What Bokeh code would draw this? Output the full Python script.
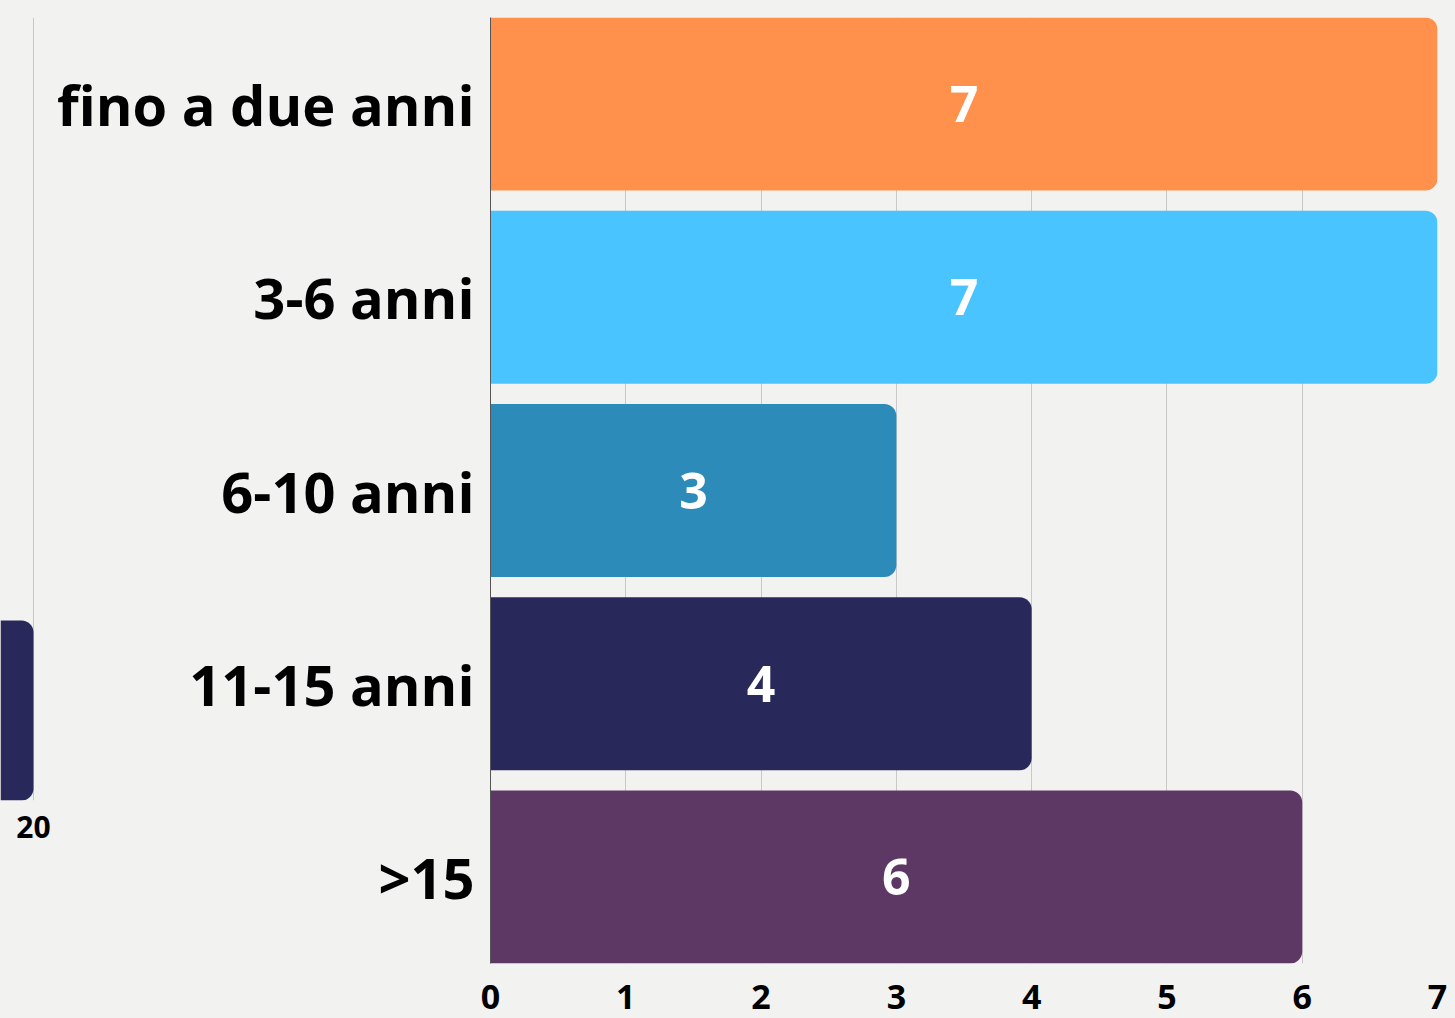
from bokeh.plotting import figure
from bokeh.models import ColumnDataSource, Range1d, FixedTicker
from bokeh.layouts import row
from bokeh.core.properties import value
from bokeh.embed import file_html
from bokeh.resources import INLINE

categories = ["fino a due anni", "3-6 anni", "6-10 anni", "11-15 anni", ">15"]
values = [7, 7, 3, 4, 6]
colors = ["#ff914d", "#4ac4fe", "#2d8bba", "#29285a", "#5e3864"]
x_ticks = [0, 1, 2, 3, 4, 5, 6, 7]

left_values = [20]
left_ticks = [20]
left_color = "#29285a"

BG = "#f2f2f0"
FONT = "Open Sans"

n = len(categories)
ypos = [n - 1 - i for i in range(n)]
src = ColumnDataSource(dict(y=ypos, v=values, c=colors,
                            mid=[v / 2 for v in values],
                            lab=[str(v) for v in values]))

# main chart
p = figure(width=1402, height=1018, output_backend="svg", toolbar_location=None,
           x_range=Range1d(0, 7), y_range=Range1d(-0.4475, n - 1 + 0.4475),
           min_border_left=437, min_border_right=18, min_border_top=17, min_border_bottom=55)
p.background_fill_color = BG
p.border_fill_color = BG
p.outline_line_color = None

p.hbar(y="y", right="v", left=0, height=0.895, fill_color="c", line_color=None,
       border_radius=(0, 12, 12, 0), source=src)
p.text(x="mid", y="y", text="lab", source=src, text_font=value(FONT), text_font_style="bold",
       text_font_size="50px", text_color="white", text_align="center", text_baseline="middle")

p.xaxis.ticker = FixedTicker(ticks=x_ticks)
p.xaxis.axis_line_color = None
p.xaxis.major_tick_line_color = None
p.xaxis.minor_tick_line_color = None
p.xaxis.major_tick_out = 0
p.xaxis.major_tick_in = 0
p.xaxis.minor_tick_out = 0
p.xaxis.major_label_standoff = 21
p.xaxis.major_label_text_font = FONT
p.xaxis.major_label_text_font_style = "bold"
p.xaxis.major_label_text_font_size = "34px"
p.xaxis.major_label_text_color = "black"

p.yaxis.ticker = FixedTicker(ticks=ypos)
p.yaxis.major_label_overrides = {yv: c for yv, c in zip(ypos, categories)}
p.yaxis.axis_line_color = "#555555"
p.yaxis.major_tick_line_color = None
p.yaxis.minor_tick_line_color = None
p.yaxis.major_tick_out = 0
p.yaxis.major_tick_in = 0
p.yaxis.minor_tick_out = 0
p.yaxis.major_label_standoff = 16
p.yaxis.major_label_text_font = FONT
p.yaxis.major_label_text_font_style = "bold"
p.yaxis.major_label_text_font_size = "56px"
p.yaxis.major_label_text_color = "black"

p.xgrid.ticker = FixedTicker(ticks=x_ticks)
p.xgrid.grid_line_color = "#c8c8c8"
p.ygrid.grid_line_color = None

# left fragment chart
lsrc = ColumnDataSource(dict(y=[0], v=left_values))
q = figure(width=53, height=855, output_backend="svg", toolbar_location=None,
           x_range=Range1d(15.875, 20.875), y_range=Range1d(-0.5, 3.85),
           min_border_left=0, min_border_right=13, min_border_top=17, min_border_bottom=55)
q.background_fill_color = BG
q.border_fill_color = BG
q.outline_line_color = None
q.hbar(y="y", right="v", left=0, height=1, fill_color=left_color, line_color=None,
       border_radius=(0, 12, 12, 0), source=lsrc)
q.yaxis.visible = False
q.ygrid.grid_line_color = None
q.xaxis.ticker = FixedTicker(ticks=left_ticks)
q.xgrid.ticker = FixedTicker(ticks=left_ticks)
q.xgrid.grid_line_color = "#c8c8c8"
q.xaxis.axis_line_color = None
q.xaxis.major_tick_line_color = None
q.xaxis.minor_tick_line_color = None
q.xaxis.major_tick_out = 0
q.xaxis.major_tick_in = 0
q.xaxis.minor_tick_out = 0
q.xaxis.major_label_standoff = 15
q.xaxis.major_label_text_font = FONT
q.xaxis.major_label_text_font_style = "bold"
q.xaxis.major_label_text_font_size = "30px"
q.xaxis.major_label_text_color = "black"

layout = row(q, p)
html = file_html(layout, INLINE)
html = html.replace("<body>", '<body style="margin:0;background:%s">' % BG)
open("out.html", "w").write(html)
